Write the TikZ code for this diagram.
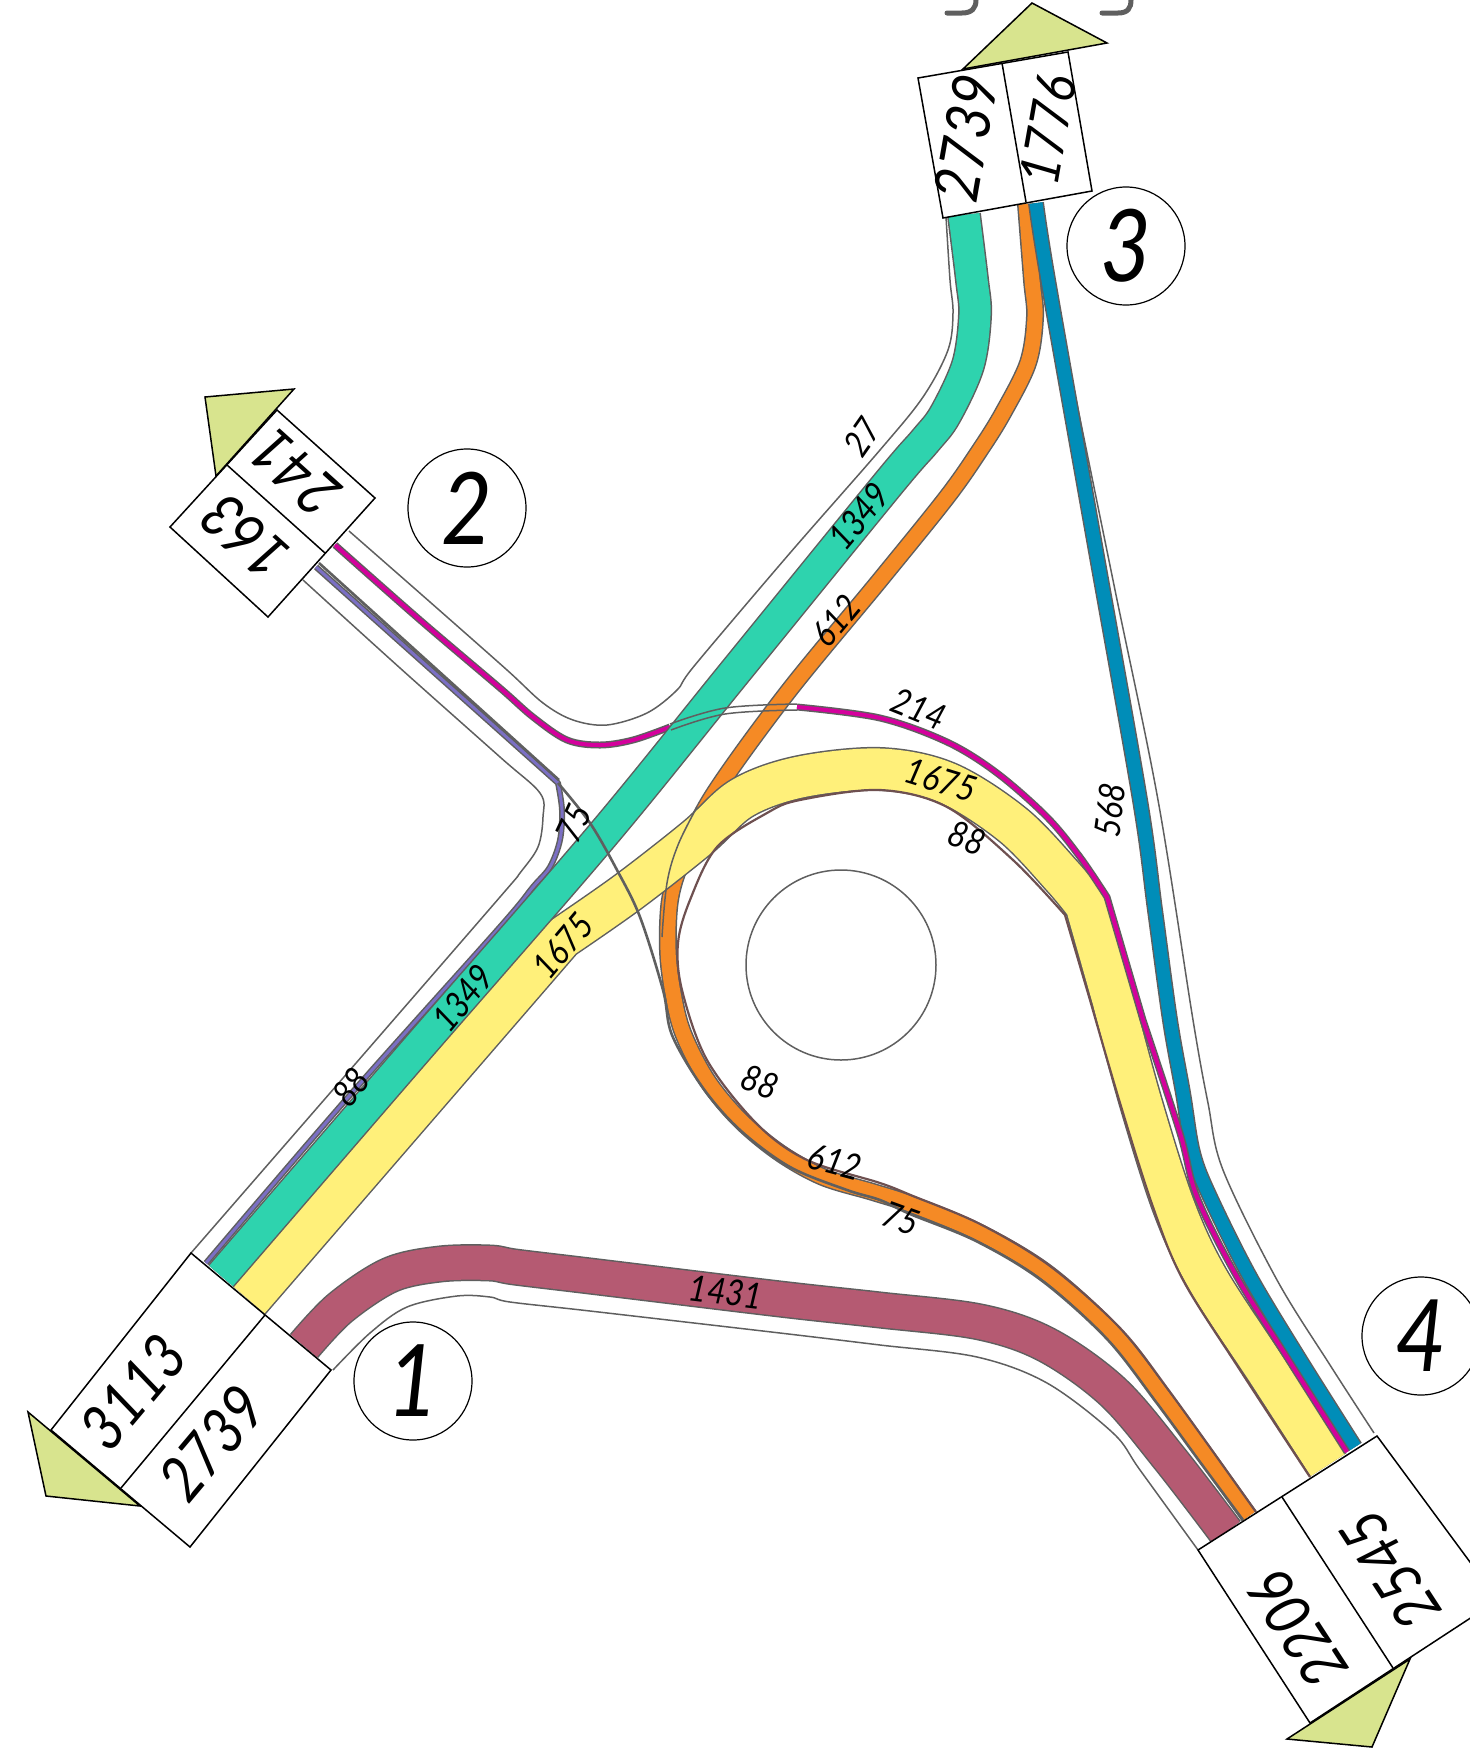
\documentclass[tikz,border=0pt]{standalone}
\usepackage{fontspec}
\setmainfont[FakeStretch=0.88]{Lato}
\definecolor{cgreen}{HTML}{2ED3AE}
\definecolor{cyellow}{HTML}{FFF07A}
\definecolor{cmaroon}{HTML}{B55A72}
\definecolor{corange}{HTML}{F58A25}
\definecolor{cblue}{HTML}{008DB8}
\definecolor{cmagenta}{HTML}{D4009C}
\definecolor{cpurple}{HTML}{7B6FC4}
\definecolor{ctri}{HTML}{D8E48E}
\definecolor{cgray}{HTML}{5F5F5F}
\definecolor{cbrown}{HTML}{6E5050}
\tikzset{
  edgeline/.style={draw=cgray,line width=1.5pt,line join=round},
  flow/.style 2 args={draw=cgray,line width=1.5pt,double=#1,double distance=#2,line join=round},
  heavy/.style={draw=cgray,line width=2.6pt,line join=round},
  brownline/.style={draw=cbrown,line width=2.2pt,line join=round},
  armbox/.style={draw=black,fill=white,line width=1.5pt,line join=miter},
  armtri/.style={draw=black,fill=ctri,line width=1.5pt,line join=miter},
  numcircle/.style={circle,draw=black,fill=white,line width=1.2pt,minimum size=118pt,inner sep=0pt,font=\fontsize{100}{100}\selectfont\itshape},
  flowlabel/.style={inner sep=0pt,font=\fontsize{36}{36}\selectfont\itshape},
  boxlabel/.style={inner sep=0pt,font=\fontsize{62}{62}\selectfont\itshape},
  sm/.style={smooth,tension=0.55},
}
\begin{document}
\begin{tikzpicture}[x=1pt,y=-1pt]
\useasboundingbox (0,0) rectangle (1470,1749);
% road boundaries
\draw[edgeline] plot[sm] coordinates {(946,217)(950,280)(953,313)(948,350)(923,397)(880,450)(790,553)(695,665)(677,690)(647,713)(607,725)(573,720)(543,703)(507,670)(430,602)(349,531)};
\draw[edgeline] plot[sm] coordinates {(303,580)(400,668)(500,757)(540,793)(543,817)(538,847)(520,873)(500,897)(350,1070)(191,1253)};
\draw[edgeline] plot[sm] coordinates {(333,1370)(370,1333)(407,1307)(457,1296)(490,1297)(510,1302)(590,1311)(780,1333)(880,1345)(977,1357)(1047,1383)(1113,1433)(1140,1470)(1198,1550)};
\draw[edgeline] plot[sm] coordinates {(1068,360)(1115,590)(1158,800)(1193,1020)(1208,1103)(1223,1170)(1277,1280)(1330,1365)(1374,1433)};
% flows
\draw[flow={cmaroon}{34pt}] plot[sm] coordinates {(304,1346)(340,1308)(390,1275)(440,1264)(490,1263)(515,1267)(590,1276)(780,1299)(880,1310)(980,1322)(1047,1345)(1113,1392)(1170,1459)(1226,1532)};
\draw[flow={corange}{15pt}] plot[sm] coordinates {(1026,204)(1032,280)(1035,317)(1028,363)(1003,413)(980,450)(947,497)(880,580)(787,693)(712,797)(682,860)(670,900)(668,950)(673,993)(683,1033)(707,1080)(740,1120)(780,1153)(823,1177)(873,1192)(913,1205)(980,1233)(1047,1273)(1113,1333)(1163,1397)(1206,1456)(1249,1516)};
\draw[flow={cyellow}{41pt}] (249,1300) -- plot[sm] coordinates {(562,938)(628,892)(697,838)(742,798)(800,777)(880,769)(947,783)(1013,825)(1063,877)(1086,905)} -- plot[sm] coordinates {(1113,1000)(1141,1103)(1174,1207)(1208,1280)(1270,1375)(1328,1465)};
\draw[flow={cblue}{13pt}] plot[sm] coordinates {(1036,203)(1048,280)(1094,540)(1140,800)(1155,910)(1170,1020)(1183,1093)(1193,1153)(1210,1197)(1250,1277)(1300,1360)(1355,1447)};
\draw[flow={cmagenta}{4pt}] plot[sm] coordinates {(335,545)(420,620)(500,688)(533,717)(567,740)(600,745)(633,740)(670,727)};
\draw[flow={cmagenta}{4pt}] plot[sm] coordinates {(797,707)(880,718)(947,742)(997,773)(1047,817)(1080,857)(1107,897)} -- plot[sm] coordinates {(1143,1020)(1180,1133)(1197,1197)(1237,1277)(1290,1362)(1347,1452)};
\draw[flow={cpurple}{3pt}] (316,567) -- plot[sm] coordinates {(558,783)(562,810)(560,840)(550,867)(533,887)(500,927)(350,1095)(206,1263)};
\draw[heavy] (319,563) -- (559,780);
\draw[flow={cgreen}{31pt}] plot[sm] coordinates {(221,1276)(410,1057)(600,838)(735,672)(888,484)(925,441)(945,415)(968,365)(975,315)(972,280)(964,215)};
% inner line along the ring and the yellow band
\draw[brownline] plot[sm] coordinates {(1256,1512)(1170,1392)(1120,1328)(1050,1266)(980,1224)(913,1196)(880,1183)(807,1160)(757,1124)(707,1060)(682,990)(678,943)(690,900)(717,847)(767,813)(800,800)(880,790)(947,807)(1013,860)(1065,915)} -- plot[sm] coordinates {(1090,1000)(1120,1103)(1153,1207)(1183,1280)(1240,1370)(1310,1477)};
% flow 75
\draw[heavy] plot[sm] coordinates {(558,783)(590,823)(617,870)(640,917)(663,990)(672,1035)(703,1088)(740,1130)(790,1167)(847,1190)(880,1200)(910,1214)(976,1241)(1041,1280)(1107,1339)(1156,1402)(1200,1462)(1243,1520)};
% thin lines over the crossing
\draw[edgeline] plot[smooth,tension=0.6] coordinates {(670,724)(725,708)(797,704)};
\draw[edgeline] plot[smooth,tension=0.6] coordinates {(671,730)(725,714)(797,710)};
\draw[edgeline] plot[smooth,tension=0.6] coordinates {(697,807)(678,845)(667,883)(662,937)};
% central island
\node[circle,draw=cgray,line width=1.5pt,minimum size=190pt,inner sep=0pt] (island) at (841,965) {};
% arm boxes
\draw[armbox] (918,78) -- (943,218) -- (1092,191) -- (1068,52) -- cycle;
\draw[armbox] (1002,63) -- (1026,202);
\draw[armtri] (1032,3) -- (1107,43) -- (963,69) -- cycle;
\draw[armbox] (170,527) -- (268,617) -- (375,498) -- (277,410) -- cycle;
\draw[armbox] (227,465) -- (325,553);
\draw[armtri] (205,397) -- (294,389) -- (216,476) -- cycle;
\draw[armbox] (191,1253) -- (51,1430) -- (190,1547) -- (331,1370) -- cycle;
\draw[armbox] (265,1315) -- (121,1488);
\draw[armtri] (28,1412) -- (46,1496) -- (140,1506) -- cycle;
\draw[armbox] (1198,1550) -- (1377,1436) -- (1498,1600) -- (1310,1723) -- cycle;
\draw[armbox] (1282,1497) -- (1393,1668);
\draw[armtri] (1287,1739) -- (1372,1747) -- (1410,1659) -- cycle;
% top marks
\draw[draw=cgray,line width=5pt,line cap=round] (947,13) -- (962,13) .. controls (972,13) and (976,8) .. (976,0);
\draw[draw=cgray,line width=5pt,line cap=round] (1102,13) -- (1118,13) .. controls (1128,13) and (1131,8) .. (1131,0);
% numbered circles
\node[numcircle] (c1) at (413,1381) {1};
\node[numcircle] (c2) at (467,508) {2};
\node[numcircle] (c3) at (1126,246) {3};
\node[numcircle] (c4) at (1421,1336) {4};
% box labels
\node[boxlabel,rotate=80] (a3l) at (966,138) {2739};
\node[boxlabel,rotate=80,font=\fontsize{55}{55}\selectfont\itshape] (a3r) at (1048,130) {1776};
\node[boxlabel,rotate=50] (a1l) at (133,1392) {3113};
\node[boxlabel,rotate=50] (a1r) at (212,1443) {2739};
\node[boxlabel,rotate=138] (a2r) at (295,473) {241};
\node[boxlabel,rotate=138] (a2l) at (245,537) {163};
\node[boxlabel,rotate=123] (a4l) at (1298,1630) {2206};
\node[boxlabel,rotate=123] (a4r) at (1390,1570) {2545};
% flow labels
\node[flowlabel,rotate=55] (f1) at (862,437) {27};
\node[flowlabel,rotate=50] (f2) at (859,516) {1349};
\node[flowlabel,rotate=50] (f3) at (836,621) {612};
\node[flowlabel,rotate=-22] (f4) at (919,709) {214};
\node[flowlabel,rotate=-17] (f5) at (941,780) {1675};
\node[flowlabel,rotate=-20] (f6) at (967,838) {88};
\node[flowlabel,rotate=82] (f7) at (1110,810) {568};
\node[flowlabel,rotate=65] (f8) at (574,823) {75};
\node[flowlabel,rotate=50] (f9) at (563,946) {1675};
\node[flowlabel,rotate=50] (f10) at (463,998) {1349};
\node[flowlabel,rotate=50] (f11) at (351,1087) {88};
\node[flowlabel,rotate=-20] (f12) at (760,1082) {88};
\node[flowlabel,rotate=-15] (f13) at (835,1162) {612};
\node[flowlabel,rotate=-20] (f14) at (901,1219) {75};
\node[flowlabel,rotate=-7] (f15) at (726,1292) {1431};
\end{tikzpicture}
\end{document}
